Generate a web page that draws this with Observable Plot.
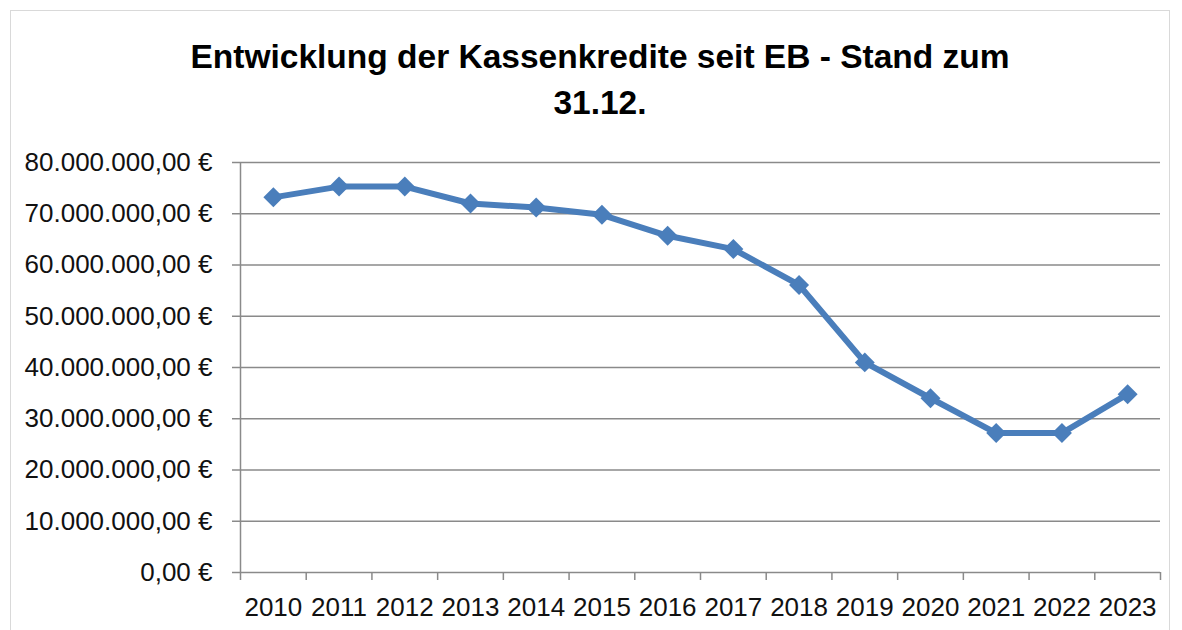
<!DOCTYPE html>
<html><head><meta charset="utf-8">
<script src="https://cdn.jsdelivr.net/npm/d3@7"></script>
<script src="https://cdn.jsdelivr.net/npm/@observablehq/plot@0.6"></script>
<style>
body{margin:0;background:#fff;width:1182px;height:630px;overflow:hidden;position:relative;font-family:"Liberation Sans",Arial,sans-serif}
#frame{position:absolute;left:10px;top:10px;width:1160px;height:640px;border:1px solid #d9d9d9;box-sizing:border-box}
#title{position:absolute;left:0;top:0;width:1200px;text-align:center;font-weight:bold;font-size:33.5px;line-height:46px;padding-top:34px;color:#000}
#chart{position:absolute;left:0;top:140px}
</style></head><body>
<div id="frame"></div>
<div id="title">Entwicklung der Kassenkredite seit EB - Stand zum<br>31.12.</div>
<div id="chart"></div>
<script>
const years = [2010, 2011, 2012, 2013, 2014, 2015, 2016, 2017, 2018, 2019, 2020, 2021, 2022, 2023];
const values = [73.2e6, 75.3e6, 75.3e6, 72.0e6, 71.2e6, 69.8e6, 65.7e6, 63.1e6, 56.1e6, 41.0e6, 34.0e6, 27.2e6, 27.2e6, 34.8e6];
const yTicks = [0, 10e6, 20e6, 30e6, 40e6, 50e6, 60e6, 70e6, 80e6];

const data = years.map((year, i) => ({year, value: values[i]}));
const boundaries = years.map(y => y - 0.5).concat([years[years.length - 1] + 0.5]);
const de = d3.formatLocale({decimal: ",", thousands: ".", grouping: [3], currency: ["", " €"]});
const eur = de.format("$,.2f");
const gray = "#8a8a8a";

const chart = Plot.plot({
  width: 1182,
  height: 490,
  marginLeft: 240,
  marginRight: 22,
  marginTop: 22,
  marginBottom: 58,
  style: {fontFamily: '"Liberation Sans", Arial, sans-serif', color: "#111", background: "transparent"},
  x: {type: "linear", domain: [boundaries[0], boundaries[boundaries.length - 1]]},
  y: {domain: [0, 80e6]},
  marks: [
    Plot.gridY(yTicks, {stroke: gray, strokeOpacity: 1, strokeWidth: 1.5}),
    Plot.ruleX([boundaries[0]], {stroke: gray, strokeWidth: 1.5}),
    Plot.axisY({ticks: yTicks, tickFormat: eur, tickSize: 8, tickPadding: 20, fontSize: 26, stroke: gray, strokeWidth: 1.5, fill: "#111", label: null}),
    Plot.axisX({ticks: boundaries, tickFormat: () => "", tickSize: 8, stroke: gray, strokeWidth: 1.5, label: null}),
    Plot.axisX({ticks: years, tickFormat: d => String(d), tickSize: 0, tickPadding: 25, fontSize: 26, fill: "#111", label: null}),
    Plot.line(data, {x: "year", y: "value", stroke: "#4a7ebb", strokeWidth: 6, strokeLinejoin: "round"}),
    Plot.dot(data, {x: "year", y: "value", symbol: "diamond2", r: 9, fill: "#4a7ebb", stroke: "none"})
  ]
});
document.getElementById("chart").appendChild(chart);
</script>
</body></html>
